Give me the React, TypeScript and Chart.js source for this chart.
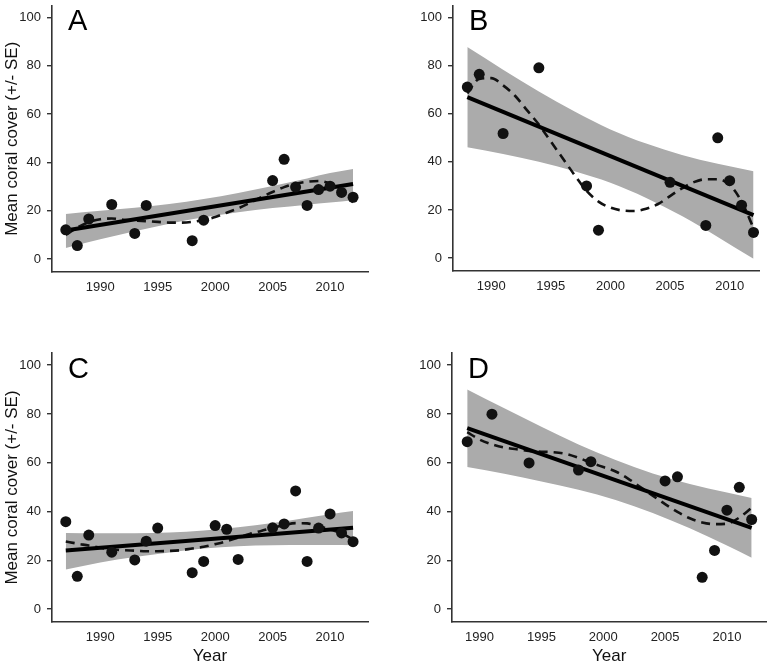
import React, { useEffect, useRef } from "react";
import { Chart, registerables } from "chart.js";

Chart.register(...registerables);

// ---------- Data ----------
const xTickYears = [1990, 1995, 2000, 2005, 2010];
const yTickValues = [0, 20, 40, 60, 80, 100];
const yAxisTitle = "Mean coral cover (+/- SE)";
const xAxisTitle = "Year";

// Panel A
const yearsA = [1987, 1988, 1989, 1991, 1993, 1994, 1998, 1999, 2005, 2006, 2007, 2008, 2009, 2010, 2011, 2012];
const coverA = [12.1, 5.6, 16.6, 22.6, 10.6, 22.2, 7.6, 16.1, 32.5, 41.3, 29.8, 22.2, 28.8, 30.2, 27.6, 25.6];
const fitYearsA = [1987, 2012];
const fitA = [11.8, 31.1];
const bandYearsA = [1987, 1990, 1993, 1996, 1999, 2002, 2005, 2008, 2010, 2012];
const upperA = [18.7, 20.0, 21.3, 22.8, 24.9, 27.4, 30.3, 33.4, 35.6, 37.3];
const lowerA = [4.6, 8.2, 11.5, 14.6, 17.3, 19.4, 21.1, 22.5, 23.4, 24.4];
const loessYearsA = [1987, 1988, 1989, 1990, 1991, 1992, 1993, 1994, 1995, 1996, 1997, 1998, 1999, 2000, 2001, 2002, 2003, 2004, 2005, 2006, 2007, 2008, 2009, 2010, 2011, 2012];
const loessA = [10.0, 13.0, 15.3, 16.5, 16.8, 16.3, 16.0, 15.7, 15.4, 15.1, 15.1, 15.4, 16.2, 17.4, 19.2, 21.0, 23.2, 25.6, 27.8, 29.8, 31.2, 32.0, 32.3, 31.2, 28.6, 23.5];

// Panel B
const yearsB = [1988, 1989, 1991, 1994, 1998, 1999, 2005, 2008, 2009, 2010, 2011, 2012];
const coverB = [71.1, 76.4, 51.8, 79.1, 30.0, 11.6, 31.5, 13.6, 50.0, 32.2, 22.0, 10.7];
const fitYearsB = [1988, 2012];
const fitB = [66.9, 17.9];
const bandYearsB = [1988, 1991, 1994, 1997, 2000, 2003, 2006, 2009, 2012];
const upperB = [87.7, 78.3, 69.3, 60.9, 53.5, 47.6, 42.9, 39.2, 36.1];
const lowerB = [46.1, 43.3, 40.1, 36.1, 31.3, 25.0, 17.5, 8.8, -0.3];
const loessYearsB = [1988, 1989, 1990, 1991, 1992, 1993, 1994, 1995, 1996, 1997, 1998, 1999, 2000, 2001, 2002, 2003, 2004, 2005, 2006, 2007, 2008, 2009, 2010, 2011, 2012];
const loessB = [68.5, 74.5, 74.8, 71.8, 67.5, 61.5, 55.5, 48.5, 41.5, 34.5, 28.0, 23.5, 21.0, 19.8, 19.6, 20.5, 22.5, 25.8, 29.0, 31.6, 32.8, 32.8, 30.5, 23.5, 12.5];

// Panel C
const yearsC = [1987, 1988, 1989, 1991, 1993, 1994, 1995, 1998, 1999, 2000, 2001, 2002, 2005, 2006, 2007, 2008, 2009, 2010, 2011, 2012];
const coverC = [35.8, 13.4, 30.3, 23.3, 20.1, 27.8, 33.2, 14.9, 19.5, 34.2, 32.7, 20.3, 33.3, 34.9, 48.4, 19.5, 33.2, 39.0, 31.2, 27.6];
const fitYearsC = [1987, 2012];
const fitC = [24.0, 33.3];
const bandYearsC = [1987, 1990, 1993, 1996, 1999, 2002, 2005, 2008, 2010, 2012];
const upperC = [31.2, 31.1, 31.1, 31.4, 32.2, 33.5, 35.3, 37.4, 38.9, 40.2];
const lowerC = [16.2, 19.1, 21.3, 23.2, 24.8, 25.7, 26.1, 26.2, 26.2, 26.1];
const loessYearsC = [1987, 1988, 1989, 1990, 1991, 1992, 1993, 1994, 1995, 1996, 1997, 1998, 1999, 2000, 2001, 2002, 2003, 2004, 2005, 2006, 2007, 2008, 2009, 2010, 2011, 2012];
const loessC = [27.7, 26.8, 26.0, 25.1, 24.4, 24.1, 23.9, 23.7, 23.7, 23.8, 24.1, 24.8, 25.5, 26.6, 27.8, 29.3, 30.8, 32.0, 33.3, 34.4, 35.2, 35.1, 34.0, 32.6, 31.0, 28.5];

// Panel D
const yearsD = [1989, 1991, 1994, 1998, 1999, 2005, 2006, 2008, 2009, 2010, 2011, 2012];
const coverD = [68.6, 79.9, 59.9, 57.0, 60.4, 52.5, 54.2, 13.0, 24.0, 40.5, 49.9, 36.7];
const fitYearsD = [1989, 2012];
const fitD = [74.2, 33.3];
const bandYearsD = [1989, 1992, 1995, 1998, 2001, 2004, 2007, 2010, 2012];
const upperD = [90.0, 82.3, 74.7, 67.5, 61.1, 55.6, 51.3, 47.8, 45.5];
const lowerD = [58.2, 55.5, 52.3, 48.9, 44.7, 39.4, 33.1, 26.0, 21.0];
const loessYearsD = [1989, 1990, 1991, 1992, 1993, 1994, 1995, 1996, 1997, 1998, 1999, 2000, 2001, 2002, 2003, 2004, 2005, 2006, 2007, 2008, 2009, 2010, 2011, 2012];
const loessD = [72.5, 69.5, 67.5, 66.2, 65.5, 64.8, 64.5, 64.3, 63.6, 62.0, 60.0, 58.2, 56.4, 53.5, 50.0, 46.5, 43.0, 39.8, 37.2, 35.5, 34.8, 35.0, 37.5, 41.5];

// ---------- Helpers ----------
const FONT = '"Liberation Sans", Arial, Helvetica, sans-serif';
const pts = (xs: number[], ys: number[]) => xs.map((x, i) => ({ x, y: ys[i] }));

type PanelProps = {
  letter: string;
  left: number;
  top: number;
  width: number;
  height: number;
  yWidth: number;
  xHeight: number;
  padTop: number;
  padRight: number;
  xMin: number;
  xMax: number;
  showYTitle: boolean;
  showXTitle: boolean;
  years: number[];
  cover: number[];
  fitYears: number[];
  fit: number[];
  bandYears: number[];
  upper: number[];
  lower: number[];
  loessYears: number[];
  loess: number[];
};

function Panel(p: PanelProps) {
  const ref = useRef<HTMLCanvasElement | null>(null);

  useEffect(() => {
    if (!ref.current) return;
    const annotate = {
      id: "annotate" + p.letter,
      afterDraw(chart: any) {
        const { ctx, chartArea: ca } = chart;
        ctx.save();
        ctx.fillStyle = "#000";
        ctx.textBaseline = "alphabetic";
        ctx.textAlign = "left";
        ctx.font = `29px ${FONT}`;
        ctx.fillText(p.letter, ca.left + 16, ca.top + 24.5);
        if (p.showYTitle) {
          ctx.save();
          ctx.translate(17, (ca.top + ca.bottom) / 2);
          ctx.rotate(-Math.PI / 2);
          ctx.textAlign = "center";
          ctx.font = `17px ${FONT}`;
          ctx.fillStyle = "#111";
          ctx.fillText(yAxisTitle, 0, 0);
          ctx.restore();
        }
        if (p.showXTitle) {
          ctx.textAlign = "center";
          ctx.font = `17px ${FONT}`;
          ctx.fillStyle = "#111";
          ctx.fillText(xAxisTitle, (ca.left + ca.right) / 2, chart.height - 4);
        }
        ctx.restore();
      },
    };

    const chart = new Chart(ref.current, {
      type: "line",
      data: {
        datasets: [
          {
            label: "upper",
            data: pts(p.bandYears, p.upper),
            borderColor: "rgba(0,0,0,0)",
            borderWidth: 0,
            pointRadius: 0,
            backgroundColor: "#ababab",
            fill: "+1",
            cubicInterpolationMode: "monotone",
            order: 4,
          },
          {
            label: "lower",
            data: pts(p.bandYears, p.lower),
            borderColor: "rgba(0,0,0,0)",
            borderWidth: 0,
            pointRadius: 0,
            fill: false,
            cubicInterpolationMode: "monotone",
            order: 5,
          },
          {
            label: "loess",
            data: pts(p.loessYears, p.loess),
            borderColor: "#111",
            borderWidth: 2.6,
            borderDash: [9, 6],
            pointRadius: 0,
            fill: false,
            cubicInterpolationMode: "monotone",
            order: 2,
          },
          {
            label: "fit",
            data: pts(p.fitYears, p.fit),
            borderColor: "#000",
            borderWidth: 4,
            pointRadius: 0,
            fill: false,
            order: 1,
          },
          {
            label: "cover",
            data: pts(p.years, p.cover),
            showLine: false,
            pointRadius: 5.5,
            pointBackgroundColor: "#111",
            pointBorderWidth: 0,
            borderColor: "#111",
            order: 0,
          },
        ],
      },
      options: {
        animation: false,
        responsive: false,
        maintainAspectRatio: false,
        layout: { padding: { top: p.padTop, right: p.padRight, left: 0, bottom: 0 } },
        plugins: { legend: { display: false }, tooltip: { enabled: false } },
        scales: {
          x: {
            type: "linear",
            min: p.xMin,
            max: p.xMax,
            grid: { display: true, drawOnChartArea: false, drawTicks: false, color: "#333" },
            border: { display: true, color: "#333", width: 1.6 },
            ticks: {
              autoSkip: false,
              padding: 8,
              color: "#222",
              font: { family: FONT, size: 13 },
              callback: (v: any) => String(v),
            },
            afterBuildTicks: (scale: any) => {
              scale.ticks = xTickYears.map((v) => ({ value: v }));
            },
            afterFit: (scale: any) => {
              scale.height = p.xHeight;
              scale.paddingLeft = 0;
              scale.paddingRight = 0;
              scale.paddingTop = 0;
              scale.paddingBottom = 0;
            },
          },
          y: {
            type: "linear",
            min: -5.35,
            max: 105,
            grid: { display: true, drawOnChartArea: false, drawTicks: true, tickLength: 5, color: "#333", lineWidth: 1.4 },
            border: { display: true, color: "#333", width: 1.6 },
            ticks: {
              autoSkip: false,
              padding: 6,
              color: "#222",
              font: { family: FONT, size: 13 },
              callback: (v: any) => String(v),
            },
            afterBuildTicks: (scale: any) => {
              scale.ticks = yTickValues.map((v) => ({ value: v }));
            },
            afterFit: (scale: any) => {
              scale.width = p.yWidth;
              scale.paddingLeft = 0;
              scale.paddingRight = 0;
              scale.paddingTop = 0;
              scale.paddingBottom = 0;
            },
          },
        },
      },
      plugins: [annotate],
    } as any);
    return () => chart.destroy();
  }, []);

  return (
    <canvas
      ref={ref}
      width={p.width}
      height={p.height}
      style={{ position: "absolute", left: p.left, top: p.top, width: p.width, height: p.height }}
    />
  );
}

export default function App() {
  return (
    <div style={{ position: "absolute", left: 0, top: 0, width: 772, height: 665, background: "#fff", overflow: "hidden" }}>
      <Panel
        letter="A" left={0} top={0} width={386} height={300}
        yWidth={52} xHeight={28} padTop={4} padRight={18}
        xMin={1985.8} xMax={2013.3} showYTitle={true} showXTitle={false}
        years={yearsA} cover={coverA} fitYears={fitYearsA} fit={fitA}
        bandYears={bandYearsA} upper={upperA} lower={lowerA}
        loessYears={loessYearsA} loess={loessA}
      />
      <Panel
        letter="B" left={386} top={0} width={386} height={300}
        yWidth={67} xHeight={29} padTop={4} padRight={13}
        xMin={1986.8} xMax={2012.46} showYTitle={false} showXTitle={false}
        years={yearsB} cover={coverB} fitYears={fitYearsB} fit={fitB}
        bandYears={bandYearsB} upper={upperB} lower={lowerB}
        loessYears={loessYearsB} loess={loessB}
      />
      <Panel
        letter="C" left={0} top={300} width={386} height={365}
        yWidth={52} xHeight={43} padTop={53} padRight={18}
        xMin={1985.8} xMax={2013.3} showYTitle={true} showXTitle={true}
        years={yearsC} cover={coverC} fitYears={fitYearsC} fit={fitC}
        bandYears={bandYearsC} upper={upperC} lower={lowerC}
        loessYears={loessYearsC} loess={loessC}
      />
      <Panel
        letter="D" left={386} top={300} width={386} height={365}
        yWidth={66} xHeight={43} padTop={53} padRight={4}
        xMin={1987.77} xMax={2013.2} showYTitle={false} showXTitle={true}
        years={yearsD} cover={coverD} fitYears={fitYearsD} fit={fitD}
        bandYears={bandYearsD} upper={upperD} lower={lowerD}
        loessYears={loessYearsD} loess={loessD}
      />
    </div>
  );
}
